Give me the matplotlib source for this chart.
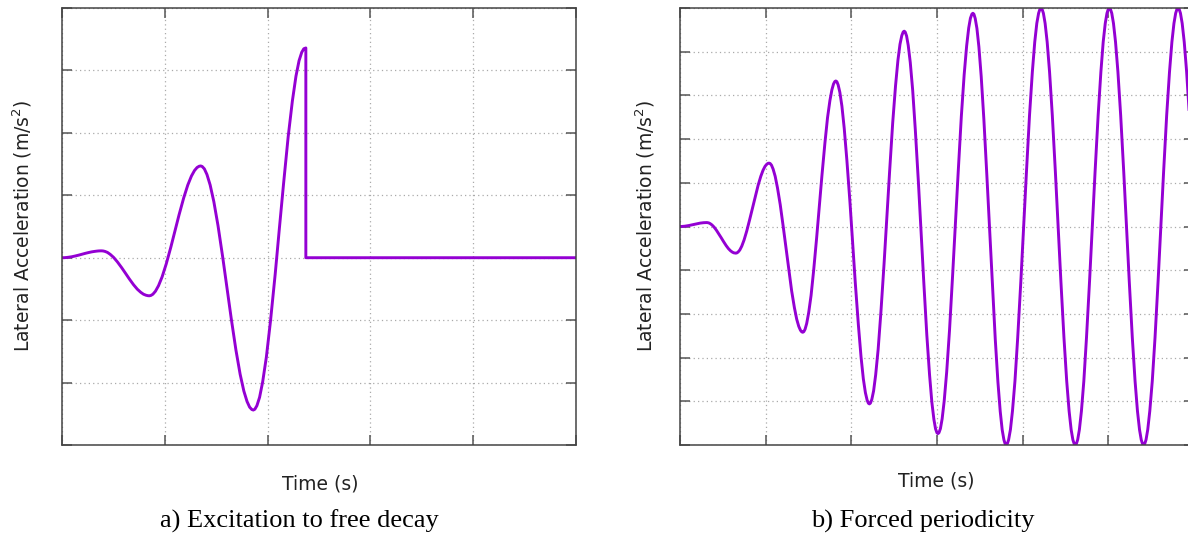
import matplotlib.pyplot as plt

# a) excitation to free decay : values
t_free = [0.000, 0.012, 0.027, 0.046, 0.069, 0.097, 0.127, 0.162, 0.193, 0.224, 0.259, 0.290, 0.317, 0.340, 0.359, 0.374,
          0.386, 0.400, 0.418, 0.442, 0.469, 0.502, 0.539, 0.581, 0.618, 0.655, 0.696, 0.733, 0.766, 0.793, 0.817, 0.835,
          0.849, 0.864, 0.884, 0.909, 0.939, 0.974, 1.014, 1.059, 1.099, 1.139, 1.184, 1.224, 1.259, 1.289, 1.314, 1.334,
          1.349, 1.364, 1.385, 1.410, 1.441, 1.477, 1.518, 1.564, 1.605, 1.646, 1.692, 1.733, 1.769, 1.800, 1.825, 1.846,
          1.861, 1.876, 1.896, 1.922, 1.952, 1.988, 2.028, 2.074, 2.114, 2.155, 2.200, 2.241, 2.276, 2.306, 2.332, 2.352,
          2.372, 2.372, 5.000]
acc_free = [0.000, 0.000, 0.001, 0.004, 0.009, 0.016, 0.027, 0.041, 0.055, 0.069, 0.083, 0.094, 0.101, 0.106, 0.109, 0.110,
            0.110, 0.108, 0.101, 0.085, 0.054, 0.005, -0.067, -0.161, -0.250, -0.340, -0.433, -0.505, -0.554, -0.585, -0.601, -0.608,
            -0.610, -0.605, -0.585, -0.537, -0.448, -0.306, -0.099, 0.171, 0.430, 0.689, 0.959, 1.166, 1.308, 1.397, 1.445, 1.465,
            1.470, 1.461, 1.423, 1.333, 1.166, 0.898, 0.510, 0.001, -0.485, -0.971, -1.480, -1.868, -2.136, -2.303, -2.393, -2.431,
            -2.440, -2.427, -2.370, -2.236, -1.989, -1.591, -1.016, -0.261, 0.460, 1.181, 1.936, 2.511, 2.909, 3.156, 3.290, 3.347,
            3.360, 0.000, 0.000]

# b) forced periodicity
t_forced = [0.000, 0.009, 0.022, 0.037, 0.056, 0.078, 0.103, 0.131, 0.156, 0.181, 0.209, 0.234, 0.256, 0.275, 0.290, 0.303,
            0.312, 0.322, 0.336, 0.353, 0.373, 0.397, 0.424, 0.454, 0.482, 0.509, 0.539, 0.566, 0.590, 0.610, 0.627, 0.641,
            0.651, 0.663, 0.678, 0.698, 0.721, 0.748, 0.779, 0.814, 0.846, 0.877, 0.912, 0.943, 0.970, 0.993, 1.013, 1.028,
            1.040, 1.052, 1.068, 1.087, 1.111, 1.138, 1.170, 1.205, 1.237, 1.268, 1.303, 1.335, 1.362, 1.386, 1.406, 1.421,
            1.433, 1.445, 1.460, 1.479, 1.502, 1.530, 1.560, 1.595, 1.626, 1.657, 1.692, 1.722, 1.750, 1.773, 1.792, 1.807,
            1.819, 1.831, 1.846, 1.866, 1.890, 1.917, 1.948, 1.984, 2.015, 2.046, 2.082, 2.113, 2.140, 2.164, 2.184, 2.199,
            2.211, 2.223, 2.239, 2.260, 2.284, 2.313, 2.345, 2.382, 2.414, 2.447, 2.483, 2.516, 2.544, 2.568, 2.589, 2.605,
            2.617, 2.629, 2.645, 2.664, 2.688, 2.716, 2.747, 2.783, 2.814, 2.846, 2.881, 2.913, 2.940, 2.964, 2.983, 2.999,
            3.011, 3.023, 3.040, 3.060, 3.084, 3.113, 3.146, 3.182, 3.215, 3.248, 3.284, 3.317, 3.346, 3.370, 3.390, 3.407,
            3.419, 3.431, 3.446, 3.466, 3.489, 3.516, 3.547, 3.582, 3.614, 3.645, 3.680, 3.711, 3.738, 3.761, 3.781, 3.796,
            3.808, 3.820, 3.836, 3.857, 3.881, 3.910, 3.942, 3.979, 4.011, 4.044, 4.080, 4.113, 4.141, 4.165, 4.186, 4.202,
            4.214, 4.226, 4.242, 4.262, 4.286, 4.314, 4.346, 4.382, 4.414, 4.446, 4.482, 4.514, 4.542, 4.566, 4.586, 4.602,
            4.614, 4.626, 4.642, 4.662, 4.686, 4.714, 4.745, 4.781, 4.813, 4.845, 4.881, 4.913, 4.940, 4.964, 4.984, 5.000,
            5.012, 5.024, 5.040, 5.060, 5.084, 5.112, 5.144, 5.180, 5.212, 5.244, 5.280, 5.312, 5.340, 5.364, 5.384, 5.400,
            5.412, 5.424, 5.440, 5.460, 5.484, 5.513, 5.545, 5.581, 5.613, 5.645, 5.681, 5.714, 5.742, 5.766, 5.786, 5.802,
            5.814, 5.826, 5.842, 5.862, 5.886, 5.914, 5.946, 5.982, 6.014]
acc_forced = [0.000, 0.000, 0.001, 0.003, 0.007, 0.013, 0.022, 0.034, 0.045, 0.056, 0.068, 0.077, 0.083, 0.087, 0.089, 0.090,
              0.090, 0.088, 0.082, 0.065, 0.036, -0.012, -0.082, -0.173, -0.260, -0.347, -0.438, -0.508, -0.556, -0.585, -0.602, -0.608,
              -0.610, -0.605, -0.585, -0.538, -0.450, -0.308, -0.104, 0.164, 0.420, 0.676, 0.944, 1.148, 1.290, 1.378, 1.425, 1.446,
              1.450, 1.442, 1.404, 1.314, 1.149, 0.883, 0.500, -0.004, -0.485, -0.966, -1.470, -1.853, -2.119, -2.284, -2.374, -2.411,
              -2.420, -2.407, -2.351, -2.218, -1.973, -1.578, -1.008, -0.260, 0.455, 1.170, 1.918, 2.488, 2.883, 3.128, 3.261, 3.317,
              3.330, 3.314, 3.241, 3.071, 2.755, 2.248, 1.516, 0.554, -0.365, -1.284, -2.246, -2.978, -3.485, -3.801, -3.971, -4.044,
              -4.060, -4.041, -3.958, -3.761, -3.396, -2.811, -1.966, -0.855, 0.205, 1.265, 2.376, 3.221, 3.806, 4.171, 4.368, 4.451,
              4.470, 4.450, 4.360, 4.147, 3.754, 3.122, 2.209, 1.010, -0.135, -1.280, -2.479, -3.392, -4.024, -4.417, -4.630, -4.720,
              -4.740, -4.719, -4.625, -4.402, -3.992, -3.332, -2.378, -1.126, 0.070, 1.266, 2.518, 3.472, 4.132, 4.542, 4.765, 4.859,
              4.880, 4.858, 4.761, 4.533, 4.111, 3.434, 2.455, 1.168, -0.060, -1.288, -2.575, -3.554, -4.231, -4.653, -4.881, -4.978,
              -5.000, -4.978, -4.880, -4.649, -4.222, -3.536, -2.545, -1.243, 0.000, 1.243, 2.545, 3.536, 4.222, 4.649, 4.880, 4.978,
              5.000, 4.978, 4.880, 4.649, 4.222, 3.536, 2.545, 1.243, 0.000, -1.243, -2.545, -3.536, -4.222, -4.649, -4.880, -4.978,
              -5.000, -4.978, -4.880, -4.649, -4.222, -3.536, -2.545, -1.243, 0.000, 1.243, 2.545, 3.536, 4.222, 4.649, 4.880, 4.978,
              5.000, 4.978, 4.880, 4.649, 4.222, 3.536, 2.545, 1.243, 0.000, -1.243, -2.545, -3.536, -4.222, -4.649, -4.880, -4.978,
              -5.000, -4.978, -4.880, -4.649, -4.222, -3.536, -2.545, -1.243, 0.000, 1.243, 2.545, 3.536, 4.222, 4.649, 4.880, 4.978,
              5.000, 4.978, 4.880, 4.649, 4.222, 3.536, 2.545, 1.243, 0.000]

line_color = '#9400d3'
ylabel_text = 'Lateral Acceleration (m/s$^2$)'

fig = plt.figure(figsize=(11.88, 5.4), dpi=100)
ax1 = fig.add_axes([62 / 1188, 95 / 540, 514 / 1188, 437 / 540])
ax2 = fig.add_axes([680 / 1188, 95 / 540, 514 / 1188, 437 / 540])


def style_axes(ax, xticks, yticks):
    ax.set_xlim(xticks[0], xticks[-1])
    ax.set_ylim(yticks[0], yticks[-1])
    ax.set_xticks(xticks)
    ax.set_yticks(yticks)
    ax.tick_params(direction='in', length=7, width=1.1, color='#555555',
                   top=True, right=True, labelbottom=False, labelleft=False)
    ax.grid(True, linestyle=(0, (1, 2.5)), color='#aaaaaa', linewidth=0.9)
    ax.set_axisbelow(True)
    for sp in ax.spines.values():
        sp.set_color('#444444')
        sp.set_linewidth(1.1)


style_axes(ax1, [0, 1, 2, 3, 4, 5], [-3, -2, -1, 0, 1, 2, 3, 4])
style_axes(ax2, [0, 1, 2, 3, 4, 5, 6], [-5, -4, -3, -2, -1, 0, 1, 2, 3, 4, 5])

ax1.plot(t_free, acc_free, color=line_color, linewidth=2.1)
ax2.plot(t_forced, acc_forced, color=line_color, linewidth=2.1)

# axis titles
fig.text(22 / 1188, 1 - 226 / 540, ylabel_text, rotation=90, ha='center', va='center',
         fontsize=13.5, color='#222222')
fig.text(645 / 1188, 1 - 226 / 540, ylabel_text, rotation=90, ha='center', va='center',
         fontsize=13.5, color='#222222')
fig.text(320 / 1188, 1 - 484 / 540, 'Time (s)', ha='center', va='center',
         fontsize=13.5, color='#222222')
fig.text(936 / 1188, 1 - 481 / 540, 'Time (s)', ha='center', va='center',
         fontsize=13.5, color='#222222')

# captions
fig.text(299 / 1188, 1 - 521 / 540, 'a) Excitation to free decay', ha='center', va='center',
         fontsize=19, family='Liberation Serif')
fig.text(923 / 1188, 1 - 521 / 540, 'b) Forced periodicity', ha='center', va='center',
         fontsize=19, family='Liberation Serif')

fig.savefig('out.png', dpi=100)
